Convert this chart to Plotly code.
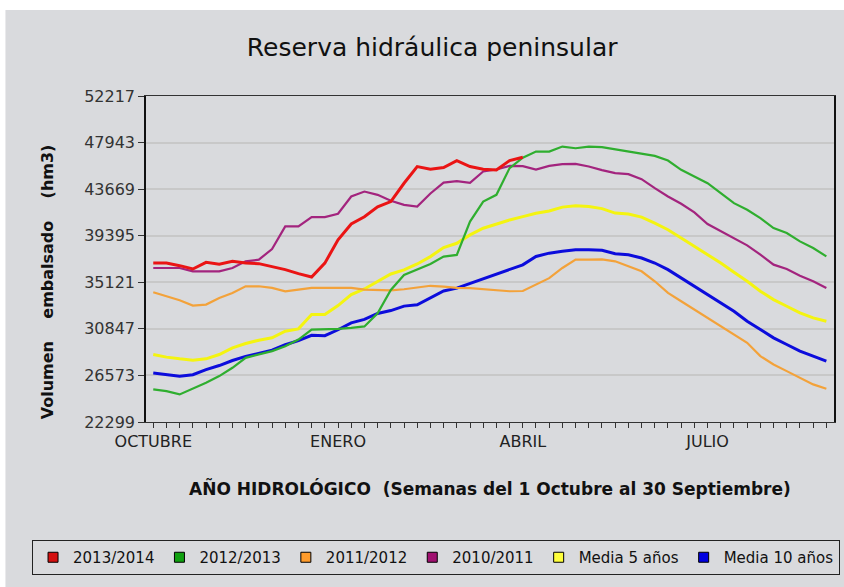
import plotly.graph_objects as go

# ---- data (hm3), 52 weekly points of the hydrological year ----
weeks = list(range(52))
month_ticks = [0, 14, 28, 42]
month_labels = ["OCTUBRE", "ENERO", "ABRIL", "JULIO"]
y_ticks = [22299, 26573, 30847, 35121, 39395, 43669, 47943, 52217]

s2013_2014 = [36891, 36891, 36647, 36342, 36952, 36769, 37044, 36891, 36830, 36586,
              36280, 35914, 35609, 36880, 39015, 40470, 41130, 42040, 42527, 44210,
              45740, 45495, 45648, 46291, 45740, 45495, 45434, 46291, 46597]

s2012_2013 = [25290, 25137, 24832, 25351, 25900, 26511, 27274, 28190, 28496, 28801,
              29259, 29869, 30785, 30785, 30846, 30938, 31070, 32276, 34418, 35795,
              36315, 36805, 37478, 37631, 40691, 42527, 43145, 45600, 46550, 47118,
              47118, 47577, 47424, 47577, 47516, 47332, 47119, 46966, 46722, 46294,
              45440, 44829, 44218, 43303, 42387, 41776, 41013, 40097, 39639, 38876,
              38265, 37502]

s2011_2012 = [34204, 33838, 33471, 32983, 33075, 33685, 34143, 34754, 34754, 34601,
              34296, 34449, 34601, 34601, 34601, 34601, 34449, 34400, 34370, 34480,
              34650, 34800, 34720, 34600, 34580, 34480, 34400, 34300, 34320, 34900,
              35500, 36433, 37196, 37196, 37220, 37044, 36586, 36128, 35212, 34143,
              33380, 32617, 31854, 31090, 30327, 29564, 28343, 27579, 26969, 26358,
              25748, 25351]

s2010_2011 = [36433, 36433, 36433, 36128, 36128, 36128, 36433, 37044, 37196, 38174,
              40250, 40250, 41104, 41104, 41410, 42997, 43450, 43145, 42600, 42230,
              42075, 43270, 44275, 44400, 44245, 45285, 45470, 45803, 45775, 45470,
              45803, 45959, 45989, 45745, 45410, 45134, 45043, 44585, 43760, 42997,
              42325, 41532, 40463, 39792, 39120, 38509, 37654, 36738, 36342, 35731,
              35212, 34601]

media_5 = [28495, 28251, 28098, 27976, 28098, 28495, 29106, 29503, 29808, 30022,
           30632, 30846, 32159, 32159, 32983, 33990, 34510, 35200, 35887, 36254,
           36805, 37478, 38304, 38702, 39467, 40079, 40477, 40844, 41150, 41460,
           41660, 42020, 42142, 42081, 41880, 41470, 41379, 41104, 40555, 39944,
           39181, 38417, 37654, 36891, 36036, 35212, 34296, 33533, 32922, 32312,
           31854, 31549]

media_10 = [26790, 26640, 26490, 26640, 27100, 27480, 27940, 28320, 28580, 28890,
            29390, 29770, 30260, 30215, 30765, 31400, 31715, 32263, 32523, 32935,
            33058, 33669, 34326, 34586, 35014, 35457, 35931, 36298, 36726, 37490,
            37795, 37960, 38112, 38112, 38051, 37746, 37654, 37349, 36891, 36280,
            35517, 34754, 33990, 33227, 32464, 31548, 30785, 30022, 29411, 28801,
            28343, 27885]

series_names = ["2013/2014", "2012/2013", "2011/2012", "2010/2011", "Media 5 años", "Media 10 años"]
series_values = [s2013_2014, s2012_2013, s2011_2012, s2010_2011, media_5, media_10]
line_colors = ["#ea1414", "#2fae2f", "#f3a23a", "#a3247e", "#f4f410", "#0c0cdc"]
swatch_colors = ["#d41010", "#10a010", "#ff9c2c", "#a01070", "#ffff3c", "#0000e0"]
line_widths = [3, 2.2, 2.2, 2.2, 3, 3]

FONT = "DejaVu Sans"
BG = "#d9dadd"

fig = go.Figure()

# draw order: averages first, current year last (on top)
for idx in [5, 4, 3, 2, 1, 0]:
    fig.add_trace(go.Scatter(
        x=weeks[:len(series_values[idx])], y=series_values[idx],
        mode="lines", line=dict(color=line_colors[idx], width=line_widths[idx]),
        showlegend=False, hoverinfo="skip"))

# legend entries (square swatches)
for name, col in zip(series_names, swatch_colors):
    fig.add_trace(go.Scatter(
        x=[None], y=[None], mode="markers", name=name,
        marker=dict(symbol="square", size=10, color=col,
                    line=dict(color="#000000", width=1))))

# grey panel background
fig.add_shape(type="rect", xref="paper", yref="paper",
              x0=-0.2043, x1=1.03, y0=-0.55, y1=1.2638,
              fillcolor=BG, line=dict(width=0), layer="below")

fig.update_layout(
    width=844, height=587,
    margin=dict(l=146, r=8, t=96, b=165),
    paper_bgcolor="white", plot_bgcolor="white",
    font=dict(family=FONT, color="#333333"),
    title=dict(text="Reserva hidráulica peninsular", x=(433 - 146) / 690, xref="paper",
               xanchor="center", y=1.0 - 47 / 587, yanchor="middle",
               font=dict(size=25, color="#111111", family=FONT)),
    showlegend=True,
    legend=dict(orientation="h", x=(31.7 - 146) / 690, xanchor="left",
                y=(422 - 540) / 326, yanchor="top",
                bgcolor=BG, bordercolor="#222222", borderwidth=1,
                font=dict(size=15, color="#111111", family=FONT),
                itemwidth=30, tracegroupgap=0),
    xaxis=dict(range=[-0.55, 51.58], tickmode="array", tickvals=month_ticks,
               ticktext=month_labels, ticks="outside", ticklen=5, tickcolor="#333333",
               showgrid=False, zeroline=False, showline=True, linecolor="#333333",
               linewidth=1, mirror=True,
               tickfont=dict(size=16, color="#222222", family=FONT),
               minor=dict(tickmode="linear", tick0=0, dtick=1, ticks="outside",
                          ticklen=5, tickcolor="#333333", showgrid=False)),
    yaxis=dict(range=[22299, 52217], tickmode="array", tickvals=y_ticks,
               ticktext=[str(v) for v in y_ticks], ticks="outside", ticklen=6,
               tickcolor="#333333", showgrid=True, gridcolor="#c8c8c8", gridwidth=1.5,
               zeroline=False, showline=True, linecolor="#111111", linewidth=1.5,
               mirror=True, tickfont=dict(size=16, color="#333333", family=FONT)),
)

fig.add_annotation(
    text="<b>Volumen\u00a0\u00a0\u00a0\u00a0embalsado\u00a0\u00a0\u00a0\u00a0(hm3)</b>",
    xref="paper", yref="paper", x=(47 - 146) / 690, y=(422 - 282) / 326,
    xanchor="center", yanchor="middle", textangle=-90, showarrow=False,
    font=dict(size=16, color="#111111", family=FONT))

fig.add_annotation(
    text="<b>AÑO HIDROLÓGICO\u00a0\u00a0(Semanas del 1 Octubre al 30 Septiembre)</b>",
    xref="paper", yref="paper", x=0.5, y=(422 - 488) / 326,
    xanchor="center", yanchor="middle", showarrow=False,
    font=dict(size=17, color="#111111", family=FONT))

fig.write_html("out.html", config={"displayModeBar": False},
               post_script="document.body.style.margin='0px';")
